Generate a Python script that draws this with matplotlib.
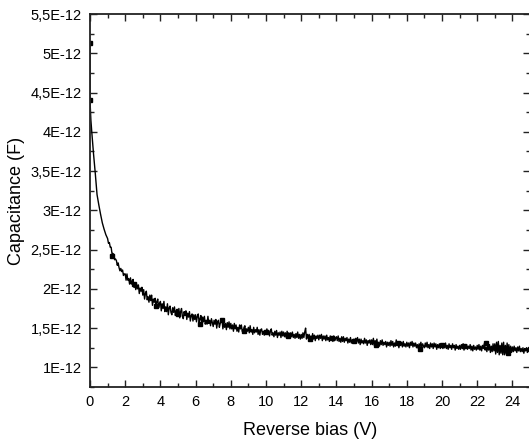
import numpy as np
import matplotlib
matplotlib.use('Agg')
import matplotlib.pyplot as plt
from matplotlib.ticker import MultipleLocator, FuncFormatter

plt.rcParams['font.family'] = ['Liberation Sans', 'DejaVu Sans']

# steep start, 0 - 0.9 V (pF)
head_v = [0.0, 0.0, 0.02, 0.05, 0.1, 0.2, 0.3, 0.4, 0.5, 0.6, 0.7, 0.8, 0.9]
head_c = [5.13, 4.40, 4.30, 4.15, 4.00, 3.72, 3.47, 3.20, 3.07, 2.95, 2.84, 2.76, 2.69]

# capacitance in pF, one value every 0.05 V from 1.0 V to 25.0 V (one row per volt)
cap_pf = [
    2.64, 2.58, 2.59, 2.53, 2.53, 2.45, 2.45, 2.44, 2.37, 2.38, 2.36, 2.30, 2.33, 2.27, 2.23, 2.26, 2.22, 2.24, 2.17, 2.19,
    2.19, 2.11, 2.19, 2.11, 2.13, 2.06, 2.14, 2.06, 2.10, 2.12, 2.02, 2.06, 1.99, 2.06, 2.00, 2.05, 1.94, 2.01, 1.97, 2.02,
    1.92, 1.99, 1.87, 1.94, 1.97, 1.86, 1.90, 1.83, 1.92, 1.85, 1.92, 1.79, 1.87, 1.83, 1.88, 1.77, 1.84, 1.87, 1.76, 1.81,
    1.84, 1.72, 1.81, 1.75, 1.84, 1.71, 1.77, 1.71, 1.81, 1.67, 1.76, 1.78, 1.70, 1.67, 1.76, 1.70, 1.77, 1.66, 1.72, 1.74,
    1.66, 1.75, 1.63, 1.71, 1.75, 1.65, 1.62, 1.71, 1.66, 1.72, 1.61, 1.69, 1.64, 1.71, 1.59, 1.66, 1.68, 1.59, 1.67, 1.61,
    1.67, 1.58, 1.65, 1.68, 1.58, 1.61, 1.66, 1.55, 1.64, 1.58, 1.65, 1.55, 1.60, 1.55, 1.65, 1.56, 1.60, 1.53, 1.62, 1.57,
    1.52, 1.60, 1.55, 1.61, 1.50, 1.58, 1.60, 1.51, 1.56, 1.60, 1.61, 1.49, 1.57, 1.51, 1.56, 1.48, 1.57, 1.51, 1.58, 1.49,
    1.56, 1.49, 1.54, 1.46, 1.56, 1.49, 1.54, 1.46, 1.51, 1.45, 1.54, 1.49, 1.54, 1.46, 1.44, 1.51, 1.53, 1.44, 1.49, 1.46,
    1.51, 1.44, 1.53, 1.45, 1.48, 1.42, 1.51, 1.44, 1.48, 1.45, 1.51, 1.42, 1.48, 1.41, 1.48, 1.49, 1.42, 1.46, 1.41, 1.47,
    1.42, 1.49, 1.44, 1.47, 1.40, 1.46, 1.49, 1.41, 1.44, 1.39, 1.46, 1.41, 1.47, 1.38, 1.44, 1.41, 1.45, 1.38, 1.46, 1.40,
    1.45, 1.39, 1.44, 1.38, 1.46, 1.41, 1.44, 1.37, 1.44, 1.39, 1.45, 1.38, 1.42, 1.37, 1.43, 1.38, 1.45, 1.37, 1.42, 1.36,
    1.42, 1.37, 1.44, 1.38, 1.45, 1.50, 1.36, 1.42, 1.37, 1.42, 1.35, 1.40, 1.36, 1.43, 1.36, 1.41, 1.34, 1.40, 1.37, 1.41,
    1.35, 1.41, 1.37, 1.42, 1.34, 1.40, 1.36, 1.40, 1.34, 1.41, 1.35, 1.38, 1.33, 1.40, 1.35, 1.38, 1.33, 1.40, 1.34, 1.37,
    1.39, 1.34, 1.40, 1.33, 1.37, 1.32, 1.39, 1.33, 1.39, 1.32, 1.37, 1.34, 1.38, 1.31, 1.36, 1.32, 1.38, 1.31, 1.35, 1.32,
    1.36, 1.31, 1.37, 1.33, 1.38, 1.31, 1.36, 1.29, 1.36, 1.31, 1.34, 1.30, 1.37, 1.31, 1.35, 1.28, 1.34, 1.31, 1.35, 1.29,
    1.35, 1.29, 1.37, 1.28, 1.34, 1.30, 1.36, 1.28, 1.32, 1.27, 1.34, 1.29, 1.35, 1.28, 1.32, 1.29, 1.33, 1.26, 1.32, 1.28,
    1.32, 1.27, 1.34, 1.28, 1.33, 1.26, 1.31, 1.27, 1.35, 1.28, 1.32, 1.25, 1.31, 1.28, 1.32, 1.26, 1.33, 1.27, 1.30, 1.26,
    1.32, 1.27, 1.31, 1.25, 1.32, 1.28, 1.33, 1.26, 1.31, 1.27, 1.31, 1.25, 1.29, 1.24, 1.30, 1.26, 1.32, 1.25, 1.30, 1.27,
    1.25, 1.31, 1.26, 1.32, 1.25, 1.29, 1.24, 1.31, 1.26, 1.30, 1.24, 1.31, 1.26, 1.30, 1.23, 1.29, 1.25, 1.30, 1.24, 1.29,
    1.30, 1.24, 1.29, 1.25, 1.31, 1.24, 1.28, 1.23, 1.30, 1.25, 1.28, 1.23, 1.30, 1.25, 1.28, 1.22, 1.29, 1.24, 1.27, 1.23,
    1.28, 1.23, 1.29, 1.24, 1.30, 1.22, 1.27, 1.24, 1.29, 1.23, 1.27, 1.24, 1.29, 1.22, 1.27, 1.21, 1.28, 1.23, 1.26, 1.22,
    1.28, 1.23, 1.29, 1.22, 1.27, 1.21, 1.28, 1.24, 1.30, 1.22, 1.26, 1.20, 1.28, 1.22, 1.29, 1.19, 1.27, 1.20, 1.30, 1.21,
    1.30, 1.17, 1.32, 1.19, 1.33, 1.16, 1.28, 1.18, 1.31, 1.16, 1.32, 1.16, 1.28, 1.17, 1.31, 1.18, 1.29, 1.16, 1.27, 1.19,
    1.26, 1.20, 1.27, 1.21, 1.25, 1.19, 1.26, 1.21, 1.27, 1.20, 1.24, 1.20, 1.25, 1.18, 1.24, 1.21, 1.25, 1.19, 1.24, 1.20,
    1.23,
]
bias_v = np.round(1.0 + np.arange(len(cap_pf)) * 0.05, 2)

# symbols (Origin style, every 1.25 V)
sym_v = [1.25, 2.5, 3.75, 5.0, 6.25, 7.5, 8.75, 10.0, 11.25, 12.5,
         13.75, 15.0, 16.25, 17.5, 18.75, 20.0, 21.25, 22.5, 23.75, 25.0]
sym_c = [2.42, 2.06, 1.78, 1.68, 1.55, 1.60, 1.46, 1.45, 1.40, 1.36,
         1.37, 1.33, 1.29, 1.31, 1.23, 1.29, 1.27, 1.31, 1.18, 1.23]

x = np.concatenate([head_v, bias_v])
y = np.concatenate([head_c, cap_pf]) * 1e-12

fig = plt.figure(figsize=(5.29, 4.43), dpi=100)
ax = fig.add_axes([90 / 529, 56 / 443, 440 / 529, 373 / 443])

ax.plot(x, y, color='black', lw=1.0)
ax.plot(head_v[:2], np.array(head_c[:2]) * 1e-12, 's', color='black', ms=3.5)
ax.plot(sym_v, np.array(sym_c) * 1e-12, 's', color='black', ms=3.5)

ax.set_xlim(0, 25)
ax.set_ylim(0.75e-12, 5.5e-12)
ax.xaxis.set_major_locator(MultipleLocator(2))
ax.xaxis.set_minor_locator(MultipleLocator(1))
ax.yaxis.set_major_locator(MultipleLocator(0.5e-12))
ax.yaxis.set_minor_locator(MultipleLocator(0.25e-12))


def fmt(v, pos):
    s = ('%g' % (v * 1e12)).replace('.', ',')
    return s + 'E-12'


ax.yaxis.set_major_formatter(FuncFormatter(fmt))

ax.tick_params(which='both', direction='in', top=True, right=True,
               labelsize=10.5, width=1, color='#222222')
ax.tick_params(which='major', length=5, pad=6)
ax.tick_params(which='minor', length=3)
for sp in ax.spines.values():
    sp.set_linewidth(1.3)
    sp.set_color('#222222')

ax.set_xlabel('Reverse bias (V)', fontsize=13, labelpad=9)
ax.set_ylabel('Capacitance (F)', fontsize=13, labelpad=4)

fig.savefig('out.png', dpi=100)
